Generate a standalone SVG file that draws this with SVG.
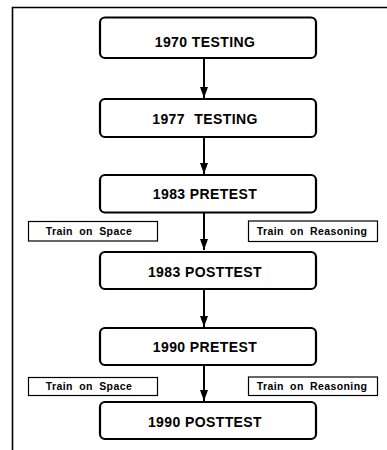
<svg xmlns="http://www.w3.org/2000/svg" width="387" height="450" viewBox="0 0 387 450">
<defs>
<style>
.node{fill:#fff;stroke:#000;stroke-width:2.2}
.lbl{fill:#fff;stroke:#000;stroke-width:1.2}
.t{font-family:"Liberation Sans",Arial,sans-serif;font-weight:bold;font-size:14px;letter-spacing:0.4px;text-anchor:middle;fill:#000}
.s{font-family:"Liberation Sans",Arial,sans-serif;font-weight:bold;font-size:10.5px;letter-spacing:0.4px;word-spacing:3px;text-anchor:middle;fill:#000}
.c{stroke:#000;stroke-width:2;fill:none;marker-end:url(#ah)}
</style>
<marker id="ah" viewBox="0 0 11 8" refX="11" refY="4" markerWidth="11" markerHeight="8" markerUnits="userSpaceOnUse" orient="auto">
<path d="M0,0 L11,4 L0,8 z" fill="#000"/>
</marker>
</defs>
<rect width="387" height="450" fill="#fff"/>
<g id="frame">
<path d="M12.5,450 L12.5,7.5 L387,7.5" fill="none" stroke="#000" stroke-width="1.6"/>
</g>
<g id="connectors">
<line class="c" x1="204" y1="58" x2="204" y2="98"/>
<line class="c" x1="204" y1="137" x2="204" y2="174"/>
<line class="c" x1="204" y1="212" x2="204" y2="250"/>
<line class="c" x1="204" y1="289" x2="204" y2="327"/>
<line class="c" x1="204" y1="365" x2="204" y2="401"/>
</g>
<g id="n1970"><rect class="node" x="100" y="17.5" width="216" height="40.5" rx="5" stroke-width="2.6"/><text class="t" x="205" y="47">1970 TESTING</text></g>
<g id="n1977"><rect class="node" x="100" y="99" width="216" height="38" rx="5"/><text class="t" x="205" y="124" word-spacing="5">1977 TESTING</text></g>
<g id="n1983pre"><rect class="node" x="100" y="175" width="216" height="37.5" rx="5"/><text class="t" x="205" y="199">1983 PRETEST</text></g>
<g id="space1"><rect class="lbl" x="28.5" y="221.5" width="129" height="19.5"/><text class="s" x="89" y="235">Train on Space</text></g>
<g id="reason1"><rect class="lbl" x="248.5" y="221" width="129" height="20.5"/><text class="s" x="312" y="235">Train on Reasoning</text></g>
<g id="n1983post"><rect class="node" x="100" y="252" width="216" height="37" rx="5"/><text class="t" x="205" y="277">1983 POSTTEST</text></g>
<g id="n1990pre"><rect class="node" x="100" y="328" width="216" height="37" rx="5"/><text class="t" x="205" y="352">1990 PRETEST</text></g>
<g id="space2"><rect class="lbl" x="28.5" y="377.5" width="129" height="18"/><text class="s" x="89" y="390">Train on Space</text></g>
<g id="reason2"><rect class="lbl" x="248.5" y="377" width="129" height="18.5"/><text class="s" x="312" y="390">Train on Reasoning</text></g>
<g id="n1990post"><rect class="node" x="100" y="402" width="216" height="37" rx="5"/><text class="t" x="205" y="427">1990 POSTTEST</text></g>
</svg>
